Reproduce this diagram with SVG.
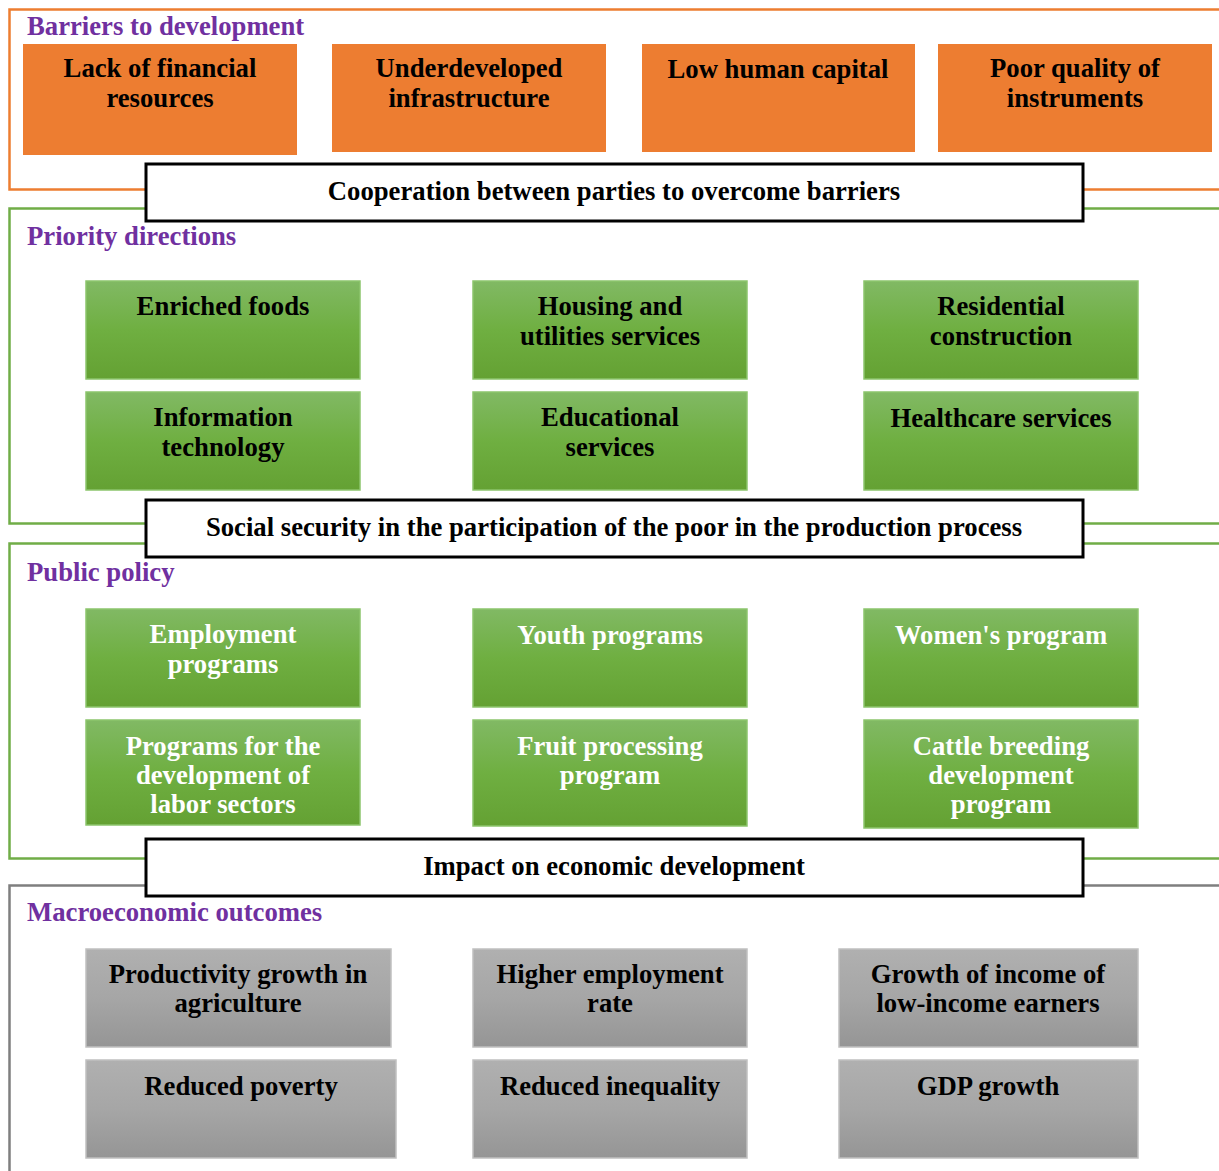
<svg xmlns="http://www.w3.org/2000/svg" width="1219" height="1171" viewBox="0 0 1219 1171">
<defs>
<linearGradient id="gg" x1="0" y1="0" x2="0" y2="1"><stop offset="0" stop-color="#81B964"/><stop offset="0.5" stop-color="#6FAF41"/><stop offset="1" stop-color="#64A133"/></linearGradient>
<linearGradient id="gr" x1="0" y1="0" x2="0" y2="1"><stop offset="0" stop-color="#B0B0B0"/><stop offset="0.5" stop-color="#A6A6A6"/><stop offset="1" stop-color="#959595"/></linearGradient>
</defs>
<style>
text{font-family:"Liberation Serif","Times New Roman",serif;font-weight:bold;font-size:26.7px;text-anchor:middle}
.t{fill:#7030A0;text-anchor:start}
.o{fill:#ED7D31}
.g{fill:url(#gg);stroke:#8CC56C;stroke-width:1.5}
.gy{fill:url(#gr);stroke:#C0C0C0;stroke-width:1.5}
.w{fill:#fff}
.k{fill:#000}
.bx{fill:#fff;stroke:#000;stroke-width:3}
.f{fill:none;stroke-width:2.5}
</style>
<g id="frames">
<rect class="f" x="9.5" y="9.5" width="1230" height="180" stroke="#ED7D31"/>
<rect class="f" x="9.5" y="208.5" width="1230" height="315" stroke="#70AD47"/>
<rect class="f" x="9.5" y="543.5" width="1230" height="315" stroke="#70AD47"/>
<rect class="f" x="9.5" y="885.5" width="1230" height="300" stroke="#7F7F7F"/>
<text class="t" x="27" y="35">Barriers to development</text>
<text class="t" x="27" y="245">Priority directions</text>
<text class="t" x="27" y="581">Public policy</text>
<text class="t" x="27" y="921">Macroeconomic outcomes</text>
</g>
<g id="barrier1"><rect class="o" x="23" y="44" width="274" height="111"/><text class="k" x="160" y="77">Lack of financial</text><text class="k" x="160" y="107">resources</text></g>
<g id="barrier2"><rect class="o" x="332" y="44" width="274" height="108"/><text class="k" x="469" y="77">Underdeveloped</text><text class="k" x="469" y="107">infrastructure</text></g>
<g id="barrier3"><rect class="o" x="642" y="44" width="273" height="108"/><text class="k" x="778" y="78">Low human capital</text></g>
<g id="barrier4"><rect class="o" x="938" y="44" width="274" height="108"/><text class="k" x="1075" y="77">Poor quality of</text><text class="k" x="1075" y="107">instruments</text></g>
<g id="coop"><rect class="bx" x="146" y="164" width="937" height="57"/><text class="k" x="614" y="200">Cooperation between parties to overcome barriers</text></g>
<g id="p1"><rect class="g" x="86" y="281" width="274" height="98"/><text class="k" x="223" y="315">Enriched foods</text></g>
<g id="p2"><rect class="g" x="473" y="281" width="274" height="98"/><text class="k" x="610" y="315">Housing and</text><text class="k" x="610" y="345">utilities services</text></g>
<g id="p3"><rect class="g" x="864" y="281" width="274" height="98"/><text class="k" x="1001" y="315">Residential</text><text class="k" x="1001" y="345">construction</text></g>
<g id="p4"><rect class="g" x="86" y="392" width="274" height="98"/><text class="k" x="223" y="426">Information</text><text class="k" x="223" y="456">technology</text></g>
<g id="p5"><rect class="g" x="473" y="392" width="274" height="98"/><text class="k" x="610" y="426">Educational</text><text class="k" x="610" y="456">services</text></g>
<g id="p6"><rect class="g" x="864" y="392" width="274" height="98"/><text class="k" x="1001" y="427">Healthcare services</text></g>
<g id="social"><rect class="bx" x="146" y="500" width="937" height="57"/><text class="k" x="614" y="536">Social security in the participation of the poor in the production process</text></g>
<g id="q1"><rect class="g" x="86" y="609" width="274" height="98"/><text class="w" x="223" y="643">Employment</text><text class="w" x="223" y="673">programs</text></g>
<g id="q2"><rect class="g" x="473" y="609" width="274" height="98"/><text class="w" x="610" y="644">Youth programs</text></g>
<g id="q3"><rect class="g" x="864" y="609" width="274" height="98"/><text class="w" x="1001" y="644">Women's program</text></g>
<g id="q4"><rect class="g" x="86" y="720" width="274" height="105"/><text class="w" x="223" y="755">Programs for the</text><text class="w" x="223" y="784">development of</text><text class="w" x="223" y="813">labor sectors</text></g>
<g id="q5"><rect class="g" x="473" y="720" width="274" height="106"/><text class="w" x="610" y="755">Fruit processing</text><text class="w" x="610" y="784">program</text></g>
<g id="q6"><rect class="g" x="864" y="720" width="274" height="108"/><text class="w" x="1001" y="755">Cattle breeding</text><text class="w" x="1001" y="784">development</text><text class="w" x="1001" y="813">program</text></g>
<g id="impact"><rect class="bx" x="146" y="839" width="937" height="57"/><text class="k" x="614" y="875">Impact on economic development</text></g>
<g id="m1"><rect class="gy" x="86" y="949" width="305" height="98"/><text class="k" x="238" y="983">Productivity growth in</text><text class="k" x="238" y="1012">agriculture</text></g>
<g id="m2"><rect class="gy" x="473" y="949" width="274" height="98"/><text class="k" x="610" y="983">Higher employment</text><text class="k" x="610" y="1012">rate</text></g>
<g id="m3"><rect class="gy" x="839" y="949" width="299" height="98"/><text class="k" x="988" y="983">Growth of income of</text><text class="k" x="988" y="1012">low-income earners</text></g>
<g id="m4"><rect class="gy" x="86" y="1060" width="310" height="98"/><text class="k" x="241" y="1095">Reduced poverty</text></g>
<g id="m5"><rect class="gy" x="473" y="1060" width="274" height="98"/><text class="k" x="610" y="1095">Reduced inequality</text></g>
<g id="m6"><rect class="gy" x="839" y="1060" width="299" height="98"/><text class="k" x="988" y="1095">GDP growth</text></g>
<g id="connectors"></g>
</svg>
